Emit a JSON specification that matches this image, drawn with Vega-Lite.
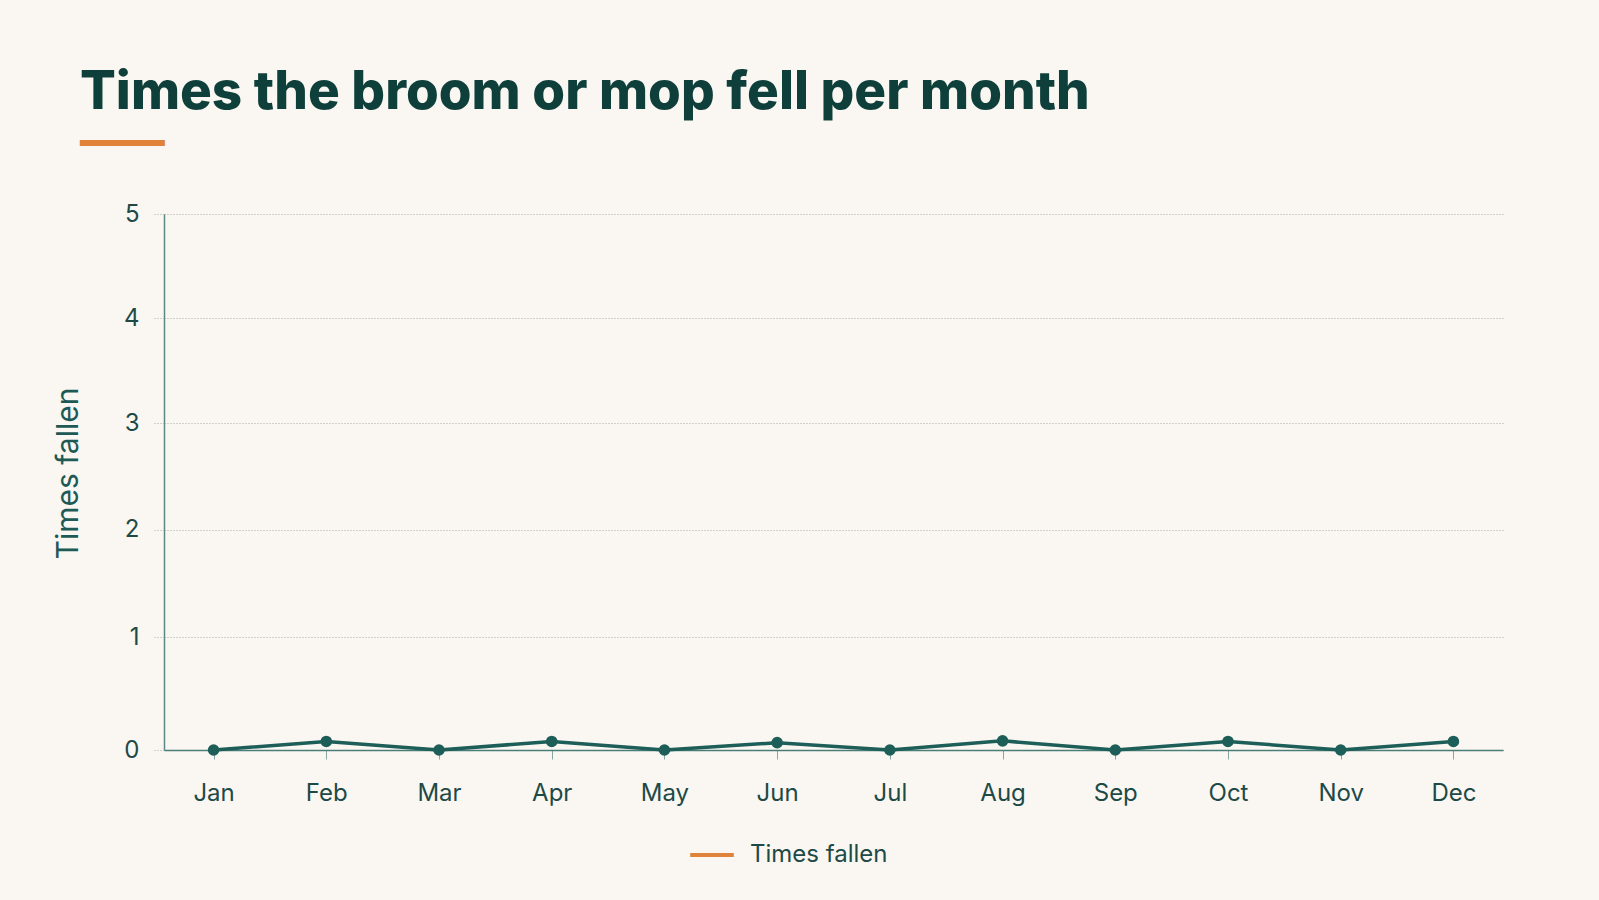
{
  "$schema": "https://vega.github.io/schema/vega-lite/v6.json",
  "autosize": {"type": "none"},
  "width": 1339,
  "height": 536,
  "padding": {"left": 164, "top": 214, "right": 96, "bottom": 150},
  "background": "#faf7f2",
  "title": {
    "text": "Times the broom or mop fell per month",
    "subtitle": "━━━━",
    "anchor": "start",
    "frame": "group",
    "dx": -84,
    "offset": 40,
    "font": "Inter",
    "fontSize": 53,
    "fontWeight": 800,
    "color": "#0f3f3b",
    "subtitleFont": "DejaVu Sans",
    "subtitleFontSize": 35,
    "subtitleColor": "#e0823a",
    "subtitlePadding": 7
  },
  "config": {
    "view": {"stroke": null},
    "font": "Inter",
    "axis": {
      "labelFont": "Inter",
      "labelFontSize": 24,
      "labelColor": "#1d4a47",
      "titleFont": "Inter",
      "titleFontSize": 30,
      "titleFontWeight": 400,
      "titleColor": "#1d5a55"
    }
  },
  "data": {
    "values": [
      {"month": "Jan", "value": 0, "series": "Times fallen"},
      {"month": "Feb", "value": 0.07, "series": "Times fallen"},
      {"month": "Mar", "value": 0, "series": "Times fallen"},
      {"month": "Apr", "value": 0.07, "series": "Times fallen"},
      {"month": "May", "value": 0, "series": "Times fallen"},
      {"month": "Jun", "value": 0.06, "series": "Times fallen"},
      {"month": "Jul", "value": 0, "series": "Times fallen"},
      {"month": "Aug", "value": 0.075, "series": "Times fallen"},
      {"month": "Sep", "value": 0, "series": "Times fallen"},
      {"month": "Oct", "value": 0.07, "series": "Times fallen"},
      {"month": "Nov", "value": 0, "series": "Times fallen"},
      {"month": "Dec", "value": 0.07, "series": "Times fallen"}
    ]
  },
  "encoding": {
    "x": {
      "field": "month",
      "type": "ordinal",
      "sort": null,
      "scale": {"type": "point", "padding": 0.44},
      "axis": {
        "title": null,
        "labelAngle": 0,
        "domainColor": "#4a7d78",
        "domainWidth": 1.5,
        "tickColor": "#8aa5a2",
        "tickSize": 9,
        "labelPadding": 22,
        "grid": false
      }
    },
    "y": {
      "field": "value",
      "type": "quantitative",
      "scale": {"type": "pow", "exponent": 0.97, "domain": [0, 5], "nice": false},
      "axis": {
        "title": "Times fallen",
        "values": [0, 1, 2, 3, 4, 5],
        "format": "d",
        "titlePadding": 40,
        "titleY": 259,
        "grid": true,
        "gridColor": "#a8a8a8",
        "gridDash": [1, 2],
        "gridWidth": 1,
        "tickColor": "#a8a8a8",
        "tickDash": [1, 2],
        "tickSize": 11,
        "labelPadding": 14,
        "domainColor": "#5b8a85",
        "domainWidth": 1.5
      }
    }
  },
  "layer": [
    {
      "mark": {"type": "line", "strokeWidth": 1},
      "encoding": {
        "color": {
          "field": "series",
          "type": "nominal",
          "scale": {"range": ["#e0823a"]},
          "legend": {
            "title": null,
            "orient": "none",
            "legendX": 524,
            "legendY": 617,
            "symbolType": "stroke",
            "symbolStrokeWidth": 4,
            "symbolSize": 1900,
            "symbolOpacity": 1,
            "labelFont": "Inter",
            "labelFontSize": 24,
            "labelColor": "#1d4a47",
            "labelOffset": 14
          }
        }
      }
    },
    {
      "mark": {"type": "line", "strokeWidth": 3.5, "color": "#1e5e58", "point": {"filled": true, "size": 135, "color": "#1e5e58", "opacity": 1}}
    }
  ]
}
